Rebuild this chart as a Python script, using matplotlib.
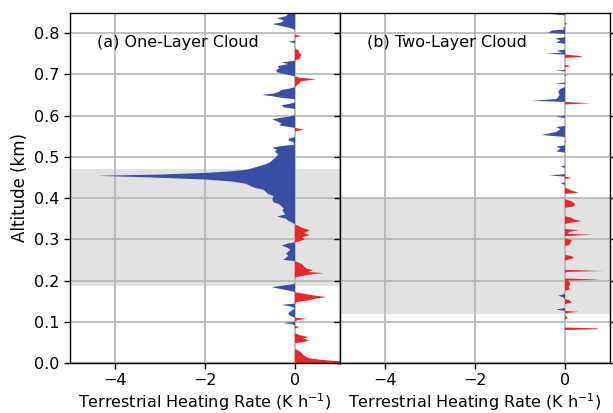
import matplotlib
matplotlib.use("Agg")
import matplotlib.pyplot as plt
import numpy as np

# ---- data: panel (a) one-layer cloud ----
alt_a = [0.000, 0.004, 0.008, 0.012, 0.018, 0.024, 0.030, 0.034, 0.048, 0.051,
         0.055, 0.059, 0.063, 0.067, 0.072, 0.084, 0.087, 0.090, 0.094, 0.097,
         0.100, 0.104, 0.107, 0.110, 0.114, 0.119, 0.124, 0.129, 0.133, 0.137,
         0.141, 0.144, 0.148, 0.152, 0.156, 0.160, 0.164, 0.168, 0.172, 0.176,
         0.180, 0.184, 0.188, 0.192, 0.207, 0.210, 0.214, 0.218, 0.221, 0.225,
         0.229, 0.234, 0.240, 0.245, 0.247, 0.250, 0.255, 0.260, 0.265, 0.270,
         0.275, 0.280, 0.285, 0.290, 0.293, 0.295, 0.300, 0.305, 0.310, 0.315,
         0.322, 0.328, 0.333, 0.336, 0.340, 0.345, 0.350, 0.355, 0.360, 0.365,
         0.370, 0.375, 0.380, 0.385, 0.390, 0.395, 0.400, 0.405, 0.410, 0.415,
         0.420, 0.425, 0.430, 0.435, 0.440, 0.445, 0.450, 0.454, 0.457, 0.461,
         0.465, 0.469, 0.474, 0.478, 0.482, 0.487, 0.492, 0.497, 0.502, 0.507,
         0.512, 0.517, 0.522, 0.526, 0.530, 0.536, 0.540, 0.545, 0.548, 0.562,
         0.566, 0.569, 0.572, 0.576, 0.581, 0.586, 0.591, 0.595, 0.598, 0.601,
         0.616, 0.620, 0.625, 0.629, 0.632, 0.640, 0.643, 0.647, 0.650, 0.654,
         0.658, 0.662, 0.666, 0.669, 0.674, 0.678, 0.683, 0.688, 0.692, 0.695,
         0.700, 0.705, 0.710, 0.715, 0.720, 0.725, 0.729, 0.733, 0.738, 0.743,
         0.748, 0.752, 0.756, 0.760, 0.763, 0.776, 0.779, 0.782, 0.790, 0.793,
         0.796, 0.808, 0.812, 0.817, 0.822, 0.826, 0.831, 0.836, 0.841, 0.846,
         0.850]
rate_a = [1.2, 1.0, 0.55, 0.3, 0.2, 0.15, 0.08, 0.0, 0.0, 0.2,
          0.32, 0.18, 0.3, 0.12, 0.0, 0.0, 0.1, 0.0, -0.05, -0.25,
          0.0, 0.05, 0.26, 0.0, -0.1, -0.15, -0.12, -0.05, 0.0, -0.1,
          -0.3, 0.0, 0.05, 0.3, 0.45, 0.7, 0.4, 0.2, 0.0, -0.15,
          -0.35, -0.52, -0.25, 0.0, 0.0, 0.1, 0.3, 0.62, 0.3, 0.4,
          0.26, 0.2, 0.15, 0.05, 0.0, -0.26, -0.2, -0.15, -0.2, -0.15,
          -0.1, -0.18, -0.3, -0.15, 0.0, 0.1, 0.22, 0.15, 0.33, 0.2,
          0.33, 0.15, 0.07, 0.0, -0.05, -0.15, -0.2, -0.4, -0.22, -0.25,
          -0.28, -0.25, -0.3, -0.35, -0.48, -0.5, -0.5, -0.48, -0.6, -0.65,
          -0.7, -0.9, -1.0, -1.1, -1.4, -2.0, -3.2, -4.4, -3.0, -2.0,
          -1.4, -1.05, -0.9, -0.78, -0.65, -0.55, -0.5, -0.45, -0.4, -0.38,
          -0.45, -0.4, -0.5, -0.3, 0.0, -0.05, -0.15, -0.12, 0.0, 0.0,
          0.2, 0.05, -0.1, -0.35, -0.3, -0.4, -0.5, -0.3, -0.1, 0.0,
          0.0, -0.25, -0.3, -0.1, 0.0, 0.0, -0.3, -0.5, -0.74, -0.45,
          -0.35, -0.3, -0.1, 0.0, 0.05, 0.1, 0.12, 0.47, 0.1, 0.0,
          -0.2, -0.4, -0.42, -0.35, -0.38, -0.15, -0.3, 0.0, 0.1, 0.12,
          0.15, 0.08, 0.1, 0.05, 0.0, 0.0, -0.15, 0.0, 0.0, 0.15,
          0.0, 0.0, -0.1, -0.3, -0.5, -0.3, -0.25, -0.4, -0.2, -0.15,
          -0.05]

# ---- data: panel (b) two-layer cloud ----
alt_b = [0.000, 0.080, 0.082, 0.084, 0.086, 0.105, 0.108, 0.112, 0.114, 0.120,
         0.122, 0.124, 0.126, 0.127, 0.130, 0.133, 0.143, 0.146, 0.150, 0.153,
         0.155, 0.160, 0.163, 0.166, 0.168, 0.175, 0.178, 0.185, 0.190, 0.197,
         0.200, 0.202, 0.205, 0.218, 0.221, 0.223, 0.226, 0.248, 0.250, 0.255,
         0.259, 0.262, 0.284, 0.286, 0.292, 0.298, 0.302, 0.308, 0.311, 0.313,
         0.318, 0.322, 0.325, 0.337, 0.340, 0.344, 0.348, 0.352, 0.356, 0.376,
         0.380, 0.386, 0.392, 0.397, 0.410, 0.413, 0.418, 0.423, 0.426, 0.432,
         0.435, 0.438, 0.446, 0.449, 0.452, 0.455, 0.458, 0.473, 0.476, 0.479,
         0.510, 0.513, 0.520, 0.525, 0.528, 0.535, 0.537, 0.540, 0.548, 0.553,
         0.560, 0.567, 0.572, 0.575, 0.594, 0.597, 0.600, 0.627, 0.630, 0.633,
         0.636, 0.640, 0.645, 0.650, 0.658, 0.665, 0.669, 0.676, 0.678, 0.680,
         0.696, 0.698, 0.700, 0.707, 0.709, 0.711, 0.717, 0.720, 0.723, 0.740,
         0.742, 0.745, 0.748, 0.750, 0.753, 0.757, 0.760, 0.774, 0.777, 0.782,
         0.787, 0.790, 0.798, 0.801, 0.806, 0.809, 0.813, 0.815, 0.820, 0.823,
         0.825, 0.843, 0.846, 0.850]
rate_b = [0.0, 0.0, 0.7, 0.74, 0.0, 0.0, 0.05, 0.05, 0.0, 0.0,
          0.1, 0.3, 0.05, -0.05, -0.2, 0.0, 0.0, 0.15, 0.12, 0.08,
          0.0, -0.05, -0.15, -0.05, 0.0, 0.0, 0.1, 0.08, 0.12, 0.1,
          0.05, 0.82, 0.0, 0.0, 0.05, 0.85, 0.0, 0.0, 0.05, 0.2,
          0.15, 0.0, 0.0, 0.1, 0.12, 0.15, 0.0, 0.0, 0.63, 0.05,
          0.1, 0.3, 0.0, 0.0, 0.1, 0.37, 0.2, 0.15, 0.0, 0.0,
          0.2, 0.22, 0.15, 0.0, 0.0, 0.3, 0.15, 0.05, 0.0, 0.0,
          -0.1, 0.0, 0.0, 0.15, 0.0, -0.35, 0.0, 0.0, -0.1, 0.0,
          0.0, -0.19, -0.1, -0.19, 0.0, 0.0, 0.03, 0.0, 0.0, -0.52,
          -0.2, -0.1, -0.2, 0.0, 0.0, -0.19, 0.0, 0.0, 0.56, 0.0,
          -0.74, -0.2, -0.15, -0.12, -0.15, -0.1, 0.0, 0.0, -0.2, 0.0,
          0.0, 0.05, 0.0, 0.0, -0.2, 0.0, 0.0, 0.13, 0.0, 0.0,
          0.41, 0.3, 0.0, -0.42, -0.05, -0.19, 0.0, 0.0, -0.2, -0.1,
          -0.22, 0.0, 0.0, -0.37, -0.3, 0.0, -0.05, 0.0, 0.0, 0.05,
          0.0, 0.0, -0.3, -0.3]

cloud_a = (0.187, 0.470)
cloud_b = (0.119, 0.400)
titles = ["(a) One-Layer Cloud", "(b) Two-Layer Cloud"]
xticks = [-4, -2, 0]
yticks = [0.0, 0.1, 0.2, 0.3, 0.4, 0.5, 0.6, 0.7, 0.8]

BLUE = "#3a4ea3"
RED = "#e8262b"

plt.rcParams['font.family'] = ['DejaVu Sans']
fig = plt.figure(figsize=(6.13, 4.13), dpi=100)
ax1 = fig.add_axes([70/613, 1-363/413, 270/613, 350.5/413])
ax2 = fig.add_axes([340/613, 1-363/413, 270/613, 350.5/413], sharey=ax1)

for ax, alt, rate, band, title in [(ax1, alt_a, rate_a, cloud_a, titles[0]),
                                   (ax2, alt_b, rate_b, cloud_b, titles[1])]:
    alt = np.array(alt); rate = np.array(rate)
    ax.axhspan(band[0], band[1], color="#e2e2e2", zorder=0, lw=0)
    ax.grid(True, color="#b4b4b4", lw=1.2, zorder=1)
    ax.set_axisbelow(True)
    ax.fill_betweenx(alt, 0, rate, where=rate <= 0, interpolate=True,
                     color=BLUE, lw=0, zorder=3)
    ax.fill_betweenx(alt, 0, rate, where=rate >= 0, interpolate=True,
                     color=RED, lw=0, zorder=3)
    ax.set_xlim(-5, 1)
    ax.set_ylim(0, 0.85)
    ax.set_xticks(xticks)
    ax.set_xticklabels([f"\u2212{abs(t)}" if t < 0 else str(t) for t in xticks])
    ax.set_yticks(yticks)
    ax.tick_params(labelsize=11.5, length=4, width=1)
    ax.set_xlabel("Terrestrial Heating Rate (K h$^{-1}$)", fontsize=11.5, labelpad=2)
    ax.text(0.10, 0.915, title, transform=ax.transAxes, fontsize=11.5,
            va="center", ha="left", zorder=5)
    for s in ax.spines.values():
        s.set_color("black"); s.set_linewidth(1.0); s.set_zorder(6)

ax1.set_yticklabels([f"{t:.1f}" for t in yticks])
ax1.set_ylabel("Altitude (km)", fontsize=12)
ax2.tick_params(labelleft=False, right=True)

fig.savefig("out.png", dpi=100)
